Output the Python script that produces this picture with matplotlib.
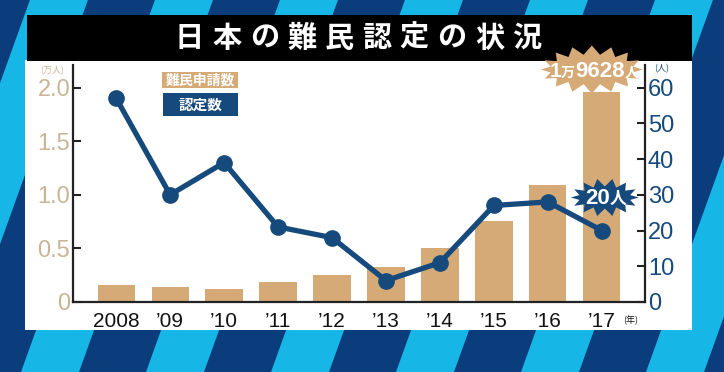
import numpy as np
import matplotlib
matplotlib.use("Agg")
import matplotlib.pyplot as plt
from matplotlib.patches import Polygon, Rectangle

# data
years = ["2008", "’09", "’10", "’11", "’12", "’13", "’14", "’15", "’16", "’17"]
applications = [1599, 1388, 1202, 1867, 2545, 3260, 5000, 7586, 10901, 19628]  # people
recognized = [57, 30, 39, 21, 18, 6, 11, 27, 28, 20]  # people
left_ticks = [0, 0.5, 1.0, 1.5, 2.0]
left_labels = ["0", "0.5", "1.0", "1.5", "2.0"]
right_ticks = [0, 10, 20, 30, 40, 50, 60]

TITLE = "日本の難民認定の状況"
LEG_APPS = "難民申請数"
LEG_RECOG = "認定数"

TAN = "#d5aa76"
TAN_TEXT = "#c9b596"
BLUE = "#174a7c"
LIGHT = "#16b6e6"
DARK = "#0b3d7c"
CJK = ["Noto Sans CJK JP", "DejaVu Sans"]
NUM = ["Liberation Sans", "Noto Sans CJK JP"]

W, H = 724, 372
fig = plt.figure(figsize=(W / 100, H / 100), dpi=100)

# --- background: stripes, white panel, black title bar (pixel coords, y down)
bg = fig.add_axes([0, 0, 1, 1], zorder=0)
bg.set_xlim(0, W)
bg.set_ylim(H, 0)
bg.axis("off")
bg.add_patch(Rectangle((0, 0), W, H, color=DARK))
slope = 0.36
for k in range(-3, 8):
    x0 = 21 + k * 125
    pts = [(x0, H), (x0 + 58, H), (x0 + 58 + slope * H, 0), (x0 + slope * H, 0)]
    bg.add_patch(Polygon(pts, closed=True, color=LIGHT, lw=0))
bg.add_patch(Rectangle((25, 60), 667, 270, color="white", lw=0))
bg.add_patch(Rectangle((27, 15), 665, 46, color="black", lw=0))
for i, ch in enumerate(TITLE):
    bg.text(358 + (i - 4.5) * 37.5, 38, ch, color="white", fontsize=21,
            fontweight="bold", family=CJK, ha="center", va="center")

# --- main chart
ax = fig.add_axes([73 / W, 1 - 302 / H, (645 - 73) / W, (302 - 65) / H], zorder=2)
ax.set_facecolor("none")
x = np.arange(len(years))
ax.bar(x, np.array(applications) / 10000, width=0.69, color=TAN, zorder=2)
ax.set_xlim(-0.8, 9.8)
ax.set_ylim(0, 2.21)
ax.set_xticks(x, years)
ax.set_yticks(left_ticks, left_labels)
ax.tick_params(axis="x", length=0, pad=7, labelsize=15, labelcolor="#111")
ax.tick_params(axis="y", direction="in", length=6, width=1.5, color="#222",
               pad=2, labelsize=17, labelcolor=TAN_TEXT)
for lab in ax.get_xticklabels() + ax.get_yticklabels():
    lab.set_family(NUM)
ax.spines["top"].set_visible(False)
ax.spines["right"].set_visible(False)
for s in ("left", "bottom"):
    ax.spines[s].set_linewidth(1.6)
    ax.spines[s].set_color("#222")

ax2 = ax.twinx()
ax2.plot(x, recognized, color=BLUE, lw=3.8, marker="o", ms=11, zorder=3,
         solid_joinstyle="round")
ax2.set_ylim(0, 2.21 * 30)
ax2.set_yticks(right_ticks)
ax2.tick_params(axis="y", direction="in", length=6, width=1.5, color="#222",
                pad=2, labelsize=17, labelcolor=BLUE)
for lab in ax2.get_yticklabels():
    lab.set_family(NUM)
for s in ("top", "left", "bottom"):
    ax2.spines[s].set_visible(False)
ax2.spines["right"].set_linewidth(1.6)
ax2.spines["right"].set_color("#222")

# --- overlay: legend boxes, unit labels, callouts (pixel coords, y down)
ov = fig.add_axes([0, 0, 1, 1], zorder=5)
ov.set_xlim(0, W)
ov.set_ylim(H, 0)
ov.axis("off")
ov.patch.set_visible(False)

ov.add_patch(Rectangle((162, 72), 76, 16, color=TAN, lw=0))
ov.text(200, 80.5, LEG_APPS, color="white", fontsize=10, fontweight="bold",
        family=CJK, ha="center", va="center")
ov.add_patch(Rectangle((163, 93), 75, 23, color=BLUE, lw=0))
ov.text(200.5, 104.5, LEG_RECOG, color="white", fontsize=10.5, fontweight="bold",
        family=CJK, ha="center", va="center")

ov.text(52, 71, "(万人)", color=TAN_TEXT, fontsize=6.5, family=CJK, ha="center", va="center")
ov.text(662, 69, "(人)", color=BLUE, fontsize=6.5, family=CJK, ha="center", va="center")
ov.text(631, 320, "(年)", color="#111", fontsize=6.5, family=CJK, ha="center", va="center")


def to_px(axes, xv, yv):
    dx, dy = axes.transData.transform((xv, yv))
    return dx, H - dy


def starburst(cx, cy, a, b, h, n, color):
    t = np.linspace(0, 2 * np.pi, 2 * n, endpoint=False)
    s = np.where(np.arange(2 * n) % 2 == 0, 1.0, 0.0)
    pts = np.column_stack([cx + (a + h * s) * np.cos(t), cy + (b + h * s) * np.sin(t)])
    ov.add_patch(Polygon(pts, closed=True, color=color, lw=0))


renderer = fig.canvas.get_renderer()


def rich_text(cx, cy, pieces):
    # pieces: (text, fontsize); laid out left to right, centred on cx
    objs = []
    for txt, size in pieces:
        objs.append(ov.text(0, cy, txt, color="white", fontsize=size, fontweight="bold",
                            family=NUM, ha="left", va="baseline"))
    widths = [o.get_window_extent(renderer).width for o in objs]
    pos = cx - sum(widths) / 2
    for o, w in zip(objs, widths):
        o.set_x(pos)
        pos += w


last = len(years) - 1
bx, by = to_px(ax, last, applications[-1] / 10000)
starburst(bx - 10, by - 22, 42, 15, 9, 16, TAN)
man = applications[-1] // 10000
rest = applications[-1] % 10000
rich_text(bx - 8, by - 15, [(str(man), 15), ("万", 10), (str(rest), 16), ("人", 10)])

lx, ly = to_px(ax2, last, recognized[-1])
starburst(lx + 3, ly - 33, 26, 11, 8, 14, BLUE)
rich_text(lx + 4, ly - 26.5, [(str(recognized[-1]), 16), ("人", 12)])

fig.savefig("out.png", dpi=100)
